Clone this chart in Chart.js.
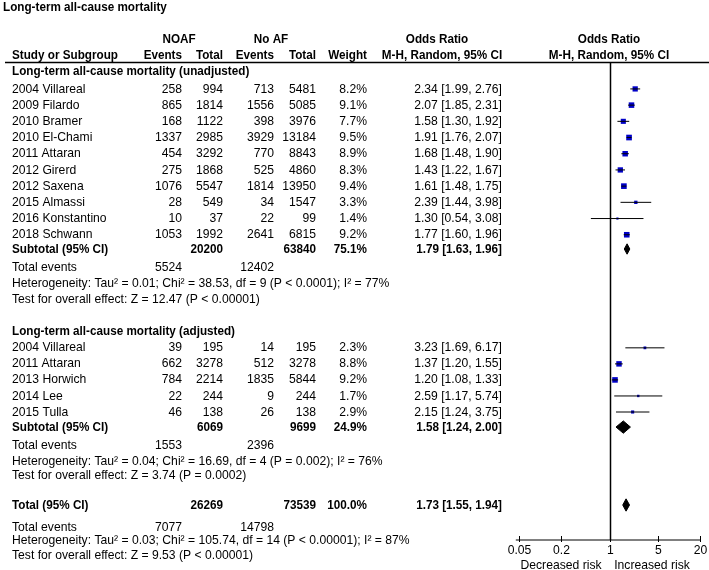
<!DOCTYPE html>
<html>
<head>
<meta charset="utf-8">
<script src="https://cdn.jsdelivr.net/npm/chart.js@4.4.0/dist/chart.umd.min.js"></script>
<style>
  body { margin: 0; background: #fff; }
  canvas { display: block; }
</style>
</head>
<body>
<canvas id="forest" width="709" height="570"></canvas>
<script>
// ---- data ----
const studies1 = ['2004 Villareal', '2009 Filardo', '2010 Bramer', '2010 El-Chami', '2011 Attaran', '2012 Girerd', '2012 Saxena', '2015 Almassi', '2016 Konstantino', '2018 Schwann'];
const noafEvents1 = [258, 865, 168, 1337, 454, 275, 1076, 28, 10, 1053];
const noafTotal1 = [994, 1814, 1122, 2985, 3292, 1868, 5547, 549, 37, 1992];
const noAfEvents1 = [713, 1556, 398, 3929, 770, 525, 1814, 34, 22, 2641];
const noAfTotal1 = [5481, 5085, 3976, 13184, 8843, 4860, 13950, 1547, 99, 6815];
const weight1 = [8.2, 9.1, 7.7, 9.5, 8.9, 8.3, 9.4, 3.3, 1.4, 9.2];
const or1 = [2.34, 2.07, 1.58, 1.91, 1.68, 1.43, 1.61, 2.39, 1.30, 1.77];
const lo1 = [1.99, 1.85, 1.30, 1.76, 1.48, 1.22, 1.48, 1.44, 0.54, 1.60];
const hi1 = [2.76, 2.31, 1.92, 2.07, 1.90, 1.67, 1.75, 3.98, 3.08, 1.96];

const studies2 = ['2004 Villareal', '2011 Attaran', '2013 Horwich', '2014 Lee', '2015 Tulla'];
const noafEvents2 = [39, 662, 784, 22, 46];
const noafTotal2 = [195, 3278, 2214, 244, 138];
const noAfEvents2 = [14, 512, 1835, 9, 26];
const noAfTotal2 = [195, 3278, 5844, 244, 138];
const weight2 = [2.3, 8.8, 9.2, 1.7, 2.9];
const or2 = [3.23, 1.37, 1.20, 2.59, 2.15];
const lo2 = [1.69, 1.20, 1.08, 1.17, 1.24];
const hi2 = [6.17, 1.55, 1.33, 5.74, 3.75];

// subtotal / total rows: [noaf total, no af total, weight, OR, lo, hi, noaf events, no af events]
const subtotal1 = [20200, 63840, 75.1, 1.79, 1.63, 1.96, 5524, 12402];
const subtotal2 = [6069, 9699, 24.9, 1.58, 1.24, 2.00, 1553, 2396];
const overall = [26269, 73539, 100.0, 1.73, 1.55, 1.94, 7077, 14798];

const hetText = [
  'Heterogeneity: Tau² = 0.01; Chi² = 38.53, df = 9 (P < 0.0001); I² = 77%',
  'Heterogeneity: Tau² = 0.04; Chi² = 16.69, df = 4 (P = 0.002); I² = 76%',
  'Heterogeneity: Tau² = 0.03; Chi² = 105.74, df = 14 (P < 0.00001); I² = 87%'
];
const testText = [
  'Test for overall effect: Z = 12.47 (P < 0.00001)',
  'Test for overall effect: Z = 3.74 (P = 0.0002)',
  'Test for overall effect: Z = 9.53 (P < 0.00001)'
];
const xTicks = [0.05, 0.2, 1, 5, 20];

// ---- row layout (in line units on the y scale) ----
const rows1 = studies1.map((s, i) => 1.6 + i);
const rows2 = studies2.map((s, i) => 17.58 + i * 0.99);
const R = {
  title: -3.46, group: -1.48, colHdr: -0.49,
  sec1: 0.49, sub1: 11.48, ev1: 12.59, het1: 13.58, test1: 14.57,
  sec2: 16.54, sub2: 22.47, ev2: 23.58, het2: 24.57, test2: 25.43,
  tot: 27.28, evT: 28.64, hetT: 29.44, testT: 30.37
};

// column anchors (pixels)
const C = { name: 12, ev1: 182, tot1: 223, ev2: 274, tot2: 316, w: 367, or: 502 };
const FONT = '"Liberation Sans", Arial, sans-serif';
const SQUEEZE = 0.935, SQUEEZE_BOLD = 0.9;
const BLUE = '#0000c8';

function fmt(v) { return v.toFixed(2); }
function orText(o, l, h) { return fmt(o) + ' [' + fmt(l) + ', ' + fmt(h) + ']'; }

const ciSets = [];
or1.forEach((o, i) => ciSets.push({ lo: lo1[i], hi: hi1[i], y: rows1[i] }));
or2.forEach((o, i) => ciSets.push({ lo: lo2[i], hi: hi2[i], y: rows2[i] }));

const pts = [];
or1.forEach((o, i) => pts.push({ x: o, y: rows1[i], w: weight1[i] }));
or2.forEach((o, i) => pts.push({ x: o, y: rows2[i], w: weight2[i] }));

function diamond(s, y, h) {
  return [
    { x: s[4], y: y }, { x: s[3], y: y - h }, { x: s[5], y: y }, { x: s[3], y: y + h }, { x: s[4], y: y }
  ];
}

const datasets = [];
ciSets.forEach(c => datasets.push({
  type: 'line',
  data: [{ x: c.lo, y: c.y }, { x: c.hi, y: c.y }],
  borderColor: '#000', borderWidth: 1, pointRadius: 0, fill: false
}));
datasets.push({
  type: 'scatter',
  data: pts,
  pointStyle: 'rect',
  backgroundColor: BLUE,
  borderColor: BLUE,
  borderWidth: 0,
  pointRadius: ctx => 1.3 * Math.sqrt(ctx.raw.w)
});
[[subtotal1, R.sub1, 0.32], [subtotal2, R.sub2, 0.38], [overall, R.tot, 0.38]].forEach(d => datasets.push({
  type: 'line',
  data: diamond(d[0], d[1], d[2]),
  borderColor: '#000', backgroundColor: '#000', borderWidth: 1,
  pointRadius: 0, fill: 'shape', tension: 0
}));

const tablePlugin = {
  id: 'table',
  afterDraw(chart) {
    const c = chart.ctx;
    const xs = chart.scales.x, ys = chart.scales.y;
    const area = chart.chartArea;
    const Y = r => ys.getPixelForValue(r);

    function t(str, x, row, align, bold) {
      c.save();
      c.font = (bold ? 'bold ' : '') + '13px ' + FONT;
      c.textAlign = align || 'left';
      c.textBaseline = 'middle';
      c.fillStyle = '#000';
      c.translate(x, Y(row));
      c.scale(bold ? SQUEEZE_BOLD : SQUEEZE, 1);
      c.fillText(String(str), 0, 0);
      c.restore();
    }

    c.save();
    // header
    t('Long-term all-cause mortality', 3, R.title, 'left', true);
    t('NOAF', 179, R.group, 'center', true);
    t('No AF', 271, R.group, 'center', true);
    t('Odds Ratio', 437, R.group, 'center', true);
    t('Odds Ratio', 609, R.group, 'center', true);
    t('Study or Subgroup', C.name, R.colHdr, 'left', true);
    t('Events', C.ev1, R.colHdr, 'right', true);
    t('Total', C.tot1, R.colHdr, 'right', true);
    t('Events', C.ev2, R.colHdr, 'right', true);
    t('Total', C.tot2, R.colHdr, 'right', true);
    t('Weight', C.w, R.colHdr, 'right', true);
    t('M-H, Random, 95% CI', 442, R.colHdr, 'center', true);
    t('M-H, Random, 95% CI', 609, R.colHdr, 'center', true);

    c.strokeStyle = '#000';
    c.lineWidth = 1.5;
    c.beginPath();
    c.moveTo(5, area.top - 0.5);
    c.lineTo(709, area.top - 0.5);
    c.stroke();

    // group 1
    t('Long-term all-cause mortality (unadjusted)', C.name, R.sec1, 'left', true);
    studies1.forEach((s, i) => {
      const r = rows1[i];
      t(s, C.name, r);
      t(noafEvents1[i], C.ev1, r, 'right');
      t(noafTotal1[i], C.tot1, r, 'right');
      t(noAfEvents1[i], C.ev2, r, 'right');
      t(noAfTotal1[i], C.tot2, r, 'right');
      t(weight1[i].toFixed(1) + '%', C.w, r, 'right');
      t(orText(or1[i], lo1[i], hi1[i]), C.or, r, 'right');
    });
    function subRows(s, label, rs, re, rh, rt, k) {
      t(label, C.name, rs, 'left', true);
      t(s[0], C.tot1, rs, 'right', true);
      t(s[1], C.tot2, rs, 'right', true);
      t(s[2].toFixed(1) + '%', C.w, rs, 'right', true);
      t(orText(s[3], s[4], s[5]), C.or, rs, 'right', true);
      t('Total events', C.name, re);
      t(s[6], C.ev1, re, 'right');
      t(s[7], C.ev2, re, 'right');
      t(hetText[k], C.name, rh);
      t(testText[k], C.name, rt);
    }
    subRows(subtotal1, 'Subtotal (95% CI)', R.sub1, R.ev1, R.het1, R.test1, 0);

    // group 2
    t('Long-term all-cause mortality (adjusted)', C.name, R.sec2, 'left', true);
    studies2.forEach((s, i) => {
      const r = rows2[i];
      t(s, C.name, r);
      t(noafEvents2[i], C.ev1, r, 'right');
      t(noafTotal2[i], C.tot1, r, 'right');
      t(noAfEvents2[i], C.ev2, r, 'right');
      t(noAfTotal2[i], C.tot2, r, 'right');
      t(weight2[i].toFixed(1) + '%', C.w, r, 'right');
      t(orText(or2[i], lo2[i], hi2[i]), C.or, r, 'right');
    });
    subRows(subtotal2, 'Subtotal (95% CI)', R.sub2, R.ev2, R.het2, R.test2, 1);
    subRows(overall, 'Total (95% CI)', R.tot, R.evT, R.hetT, R.testT, 2);

    // x axis
    const yb = area.bottom;
    c.lineWidth = 1;
    c.beginPath();
    c.moveTo(xs.getPixelForValue(0.045), yb);
    c.lineTo(xs.getPixelForValue(20.6), yb);
    c.stroke();
    xTicks.forEach(v => {
      const px = Math.round(xs.getPixelForValue(v)) + 0.5;
      c.beginPath();
      c.moveTo(px, yb - 4);
      c.lineTo(px, yb + 2);
      c.stroke();
    });
    c.restore();

    const axisRow = ys.getValueForPixel(yb + 10);
    const riskRow = ys.getValueForPixel(yb + 25);
    xTicks.forEach(v => t(String(v), Math.round(xs.getPixelForValue(v)) + 0.5, axisRow, 'center'));
    t('Decreased risk', 561, riskRow, 'center');
    t('Increased risk', 652, riskRow, 'center');
  },
  beforeDatasetsDraw(chart) {
    const c = chart.ctx;
    const area = chart.chartArea;
    const px = Math.round(chart.scales.x.getPixelForValue(1)) + 0.5;
    c.save();
    c.strokeStyle = '#000';
    c.lineWidth = 1.5;
    c.beginPath();
    c.moveTo(px, area.top);
    c.lineTo(px, area.bottom);
    c.stroke();
    c.restore();
  }
};

new Chart(document.getElementById('forest'), {
  type: 'scatter',
  data: { datasets: datasets },
  options: {
    responsive: false,
    animation: false,
    layout: { padding: { left: 519, right: 9, top: 63, bottom: 30 } },
    scales: {
      x: { type: 'logarithmic', min: 0.05, max: 20, display: false },
      y: { type: 'linear', min: 0, max: 29.44, reverse: true, display: false }
    },
    plugins: {
      legend: { display: false },
      tooltip: { enabled: false }
    }
  },
  plugins: [tablePlugin]
});
</script>
</body>
</html>
